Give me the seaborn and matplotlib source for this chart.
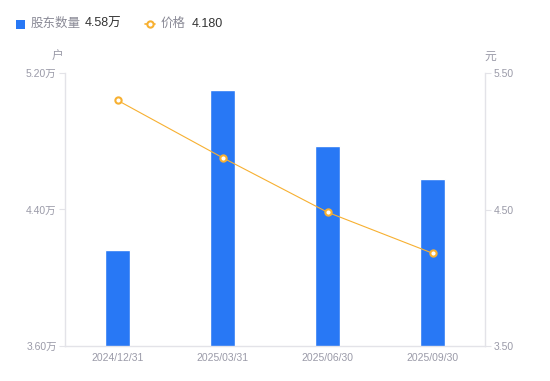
import matplotlib
matplotlib.use("Agg")
import matplotlib.pyplot as plt
import seaborn as sns
import numpy as np
import pandas as pd

dates = ["2024/12/31", "2025/03/31", "2025/06/30", "2025/09/30"]
holders = [4.16, 5.10, 4.77, 4.58]   # 万户
prices = [5.30, 4.88, 4.48, 4.18]    # 元
left_ticks = [3.60, 4.40, 5.20]
right_ticks = [3.50, 4.50, 5.50]

sns.set_theme(style="white")
FAM = ['Liberation Sans', 'Noto Sans CJK SC', 'DejaVu Sans']
plt.rcParams['font.family'] = FAM

BAR = "#2878F5"
LINE = "#F7B031"
TXT = "#9a9aa8"
AX = "#e3e3e8"

df = pd.DataFrame({"date": dates, "holders": holders, "price": prices, "pos": np.arange(len(dates))})

fig = plt.figure(figsize=(5.5, 3.81), dpi=100)
ax = fig.add_axes([65/550, 35/381, 420/550, 273/381])
sns.barplot(data=df, x="date", y="holders", color=BAR, width=0.24, ax=ax, saturation=1)
ax.set_ylim(3.6, 5.2)
ax.set_xlim(-0.5, 3.5)
ax.set_yticks(left_ticks)
ax.set_yticklabels([f"{v:.2f}万" for v in left_ticks])
ax.set_xlabel("")
ax.set_ylabel("")

ax2 = ax.twinx()
sns.lineplot(data=df, x="pos", y="price", color=LINE, linewidth=0.8, marker="o",
             markersize=4.5, markerfacecolor="white", markeredgecolor=LINE,
             markeredgewidth=1.5, ax=ax2)
ax2.set_ylim(3.5, 5.5)
ax2.set_yticks(right_ticks)
ax2.set_yticklabels([f"{v:.2f}" for v in right_ticks])
ax2.set_ylabel("")
ax2.set_xlim(-0.5, 3.5)

for a in (ax, ax2):
    a.spines["top"].set_visible(False)
    for s in ["left", "right", "bottom"]:
        a.spines[s].set_color(AX)
        a.spines[s].set_linewidth(1)
    a.tick_params(colors=TXT, labelsize=7.5, length=4, width=0.8)
    a.grid(False)
ax.spines["right"].set_visible(False)
ax2.spines["left"].set_visible(False)
ax2.spines["bottom"].set_visible(False)
ax.tick_params(axis="y", color=AX, pad=2)
ax2.tick_params(axis="y", color=AX, pad=2)
ax.tick_params(axis="x", length=0, pad=5)

fig.text(58/550, 1 - 57/381, "户", color=TXT, fontsize=8.5, ha="center", va="center")
fig.text(490/550, 1 - 57/381, "元", color=TXT, fontsize=8.5, ha="center", va="center")

# legend header
ly = 1 - 24/381
fig.patches.append(plt.Rectangle((16/550, 1 - 29/381), 9/550, 9/381, transform=fig.transFigure,
                                 facecolor=BAR, edgecolor="none"))
fig.text(31/550, ly, "股东数量", color="#8a8a96", fontsize=9, va="center")
fig.text(85/550, ly, "4.58万", color="#333333", fontsize=9, va="center")
leg_line = plt.Line2D([145/550, 150/550, 155/550], [ly, ly, ly], transform=fig.transFigure, color=LINE,
                      linewidth=1.2, marker="o", markersize=4.5, markevery=[1],
                      markerfacecolor="white", markeredgecolor=LINE, markeredgewidth=1.5)
fig.lines.append(leg_line)
fig.text(161/550, ly, "价格", color="#8a8a96", fontsize=9, va="center")
fig.text(192/550, ly, "4.180", color="#333333", fontsize=9, va="center")

fig.savefig("out.png", dpi=100)
